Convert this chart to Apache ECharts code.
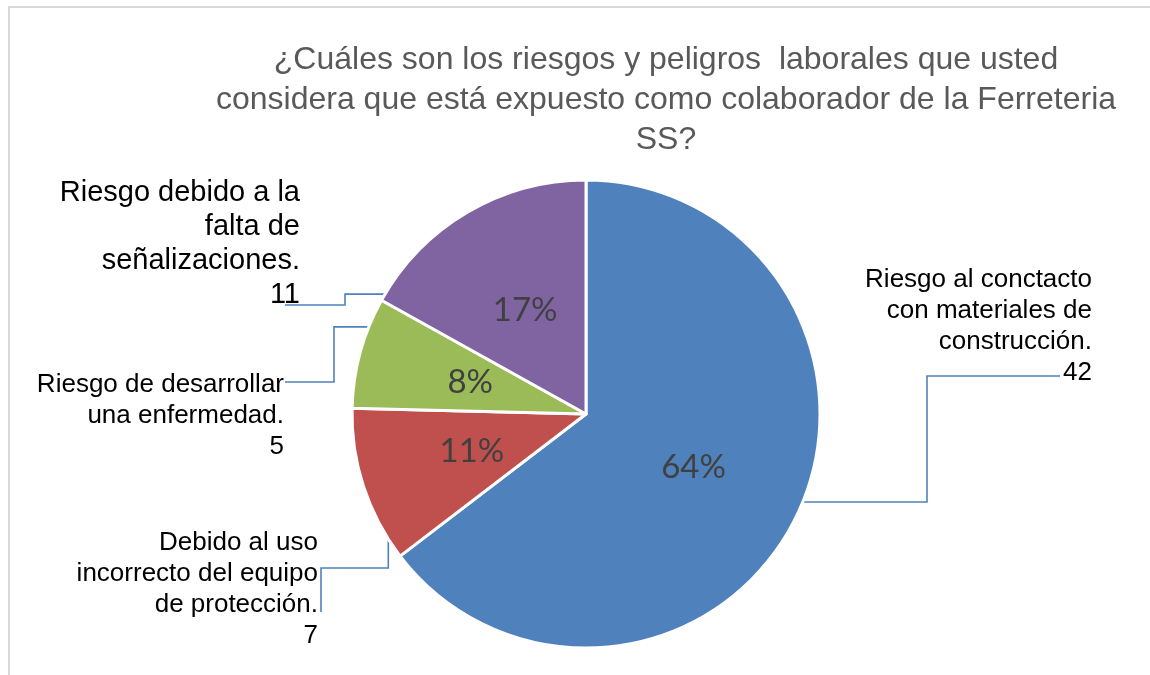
<!DOCTYPE html>
<html>
<head>
<meta charset="utf-8">
<script src="https://cdn.jsdelivr.net/npm/echarts@6/dist/echarts.min.js"></script>
<style>
  html, body { margin: 0; padding: 0; background: #ffffff; }
  #chart { width: 1150px; height: 675px; }
</style>
</head>
<body>
<div id="chart"></div>
<script>
// ---- data ----
const titleLines = [
  '¿Cuáles son los riesgos y peligros  laborales que usted',
  'considera que está expuesto como colaborador de la Ferreteria',
  'SS?'
];
const categories = [
  'Riesgo al conctacto\ncon materiales de\nconstrucción.',
  'Debido al uso\nincorrecto del equipo\nde protección.',
  'Riesgo de desarrollar\nuna enfermedad.',
  'Riesgo debido a la\nfalta de\nseñalizaciones.'
];
const values = [42, 7, 5, 11];
const colors = ['#4F81BD', '#C0504D', '#9BBB59', '#8064A2'];

// ---- layout / style ----
const CX = 586, CY = 414, R = 234;
const labelPlace = [
  { right: 1092, cy: 326,   font: 26, lh: 31, start: [-22.1, 1.0],  route: 'h', elbow: 927, end: [-32, 50] },
  { right: 318,  cy: 589.5, font: 26, lh: 31, start: [-151, 0.966], route: 'v', elbow: 568, end: [3, 22.5] },
  { right: 284,  cy: 416,   font: 26, lh: 31, start: [156.8, 0.945], route: 'h', elbow: 334, end: [1, -34] },
  { right: 300,  cy: 243.5, font: 29, lh: 34, start: [146.5, 0.928], route: 'h', elbow: 345, end: [-15, 61.5] }
];

const chart = echarts.init(document.getElementById('chart'), null, { renderer: 'canvas' });

const pieData = categories.map((c, i) => ({
  name: c, value: values[i], itemStyle: { color: colors[i] },
  label: { fontSize: labelPlace[i].font, lineHeight: labelPlace[i].lh }
}));

const option = {
  animation: false,
  backgroundColor: '#ffffff',
  graphic: [
    {
      type: 'rect', silent: true, z: -10,
      shape: { x: 9, y: 7, width: 1200, height: 700 },
      style: { fill: 'none', stroke: '#d9d9d9', lineWidth: 2 }
    },
    {
      type: 'text', x: 666, y: 40, silent: true,
      style: {
        text: titleLines.join('\n'),
        align: 'center', verticalAlign: 'top',
        fontFamily: '"Liberation Sans", Arial, sans-serif',
        fontSize: 32, lineHeight: 40, fill: '#595959'
      }
    }
  ],
  series: [
    {
      type: 'pie',
      center: [CX, CY],
      radius: R,
      startAngle: 90,
      clockwise: true,
      silent: true,
      data: pieData,
      itemStyle: { borderColor: '#ffffff', borderWidth: 3 },
      label: {
        show: true,
        position: 'outside',
        formatter: '{b}\n{c}',
        fontFamily: '"Liberation Sans", Arial, sans-serif',
        fontSize: 26,
        lineHeight: 31,
        color: '#000000'
      },
      labelLine: {
        show: true, smooth: false,
        lineStyle: { color: '#4F81BD', width: 1.6 }
      },
      labelLayout: function (params) {
        const p = labelPlace[params.dataIndex];
        const a = p.start[0] * Math.PI / 180;
        const sx = CX + R * p.start[1] * Math.cos(a);
        const sy = CY - R * p.start[1] * Math.sin(a);
        const ex = p.right + p.end[0];
        const ey = p.cy + p.end[1];
        const pts = p.route === 'h'
          ? [[sx, sy], [p.elbow, sy], [p.elbow, ey], [ex, ey]]
          : [[sx, sy], [sx, p.elbow], [ex, p.elbow], [ex, ey]];
        return {
          x: p.right, y: p.cy, align: 'right', verticalAlign: 'middle',
          labelLinePoints: pts
        };
      }
    },
    {
      type: 'pie',
      center: [CX, CY],
      radius: R,
      startAngle: 90,
      clockwise: true,
      silent: true,
      percentPrecision: 0,
      data: categories.map((c, i) => ({ name: c, value: values[i] })),
      itemStyle: { color: 'rgba(0,0,0,0)', borderWidth: 0 },
      label: {
        show: true,
        position: 'inside',
        formatter: '{d}%',
        fontFamily: 'Lato, "Open Sans", sans-serif',
        fontSize: 33,
        color: '#404040'
      },
      labelLine: { show: false }
    }
  ]
};
chart.setOption(option);
</script>
</body>
</html>
